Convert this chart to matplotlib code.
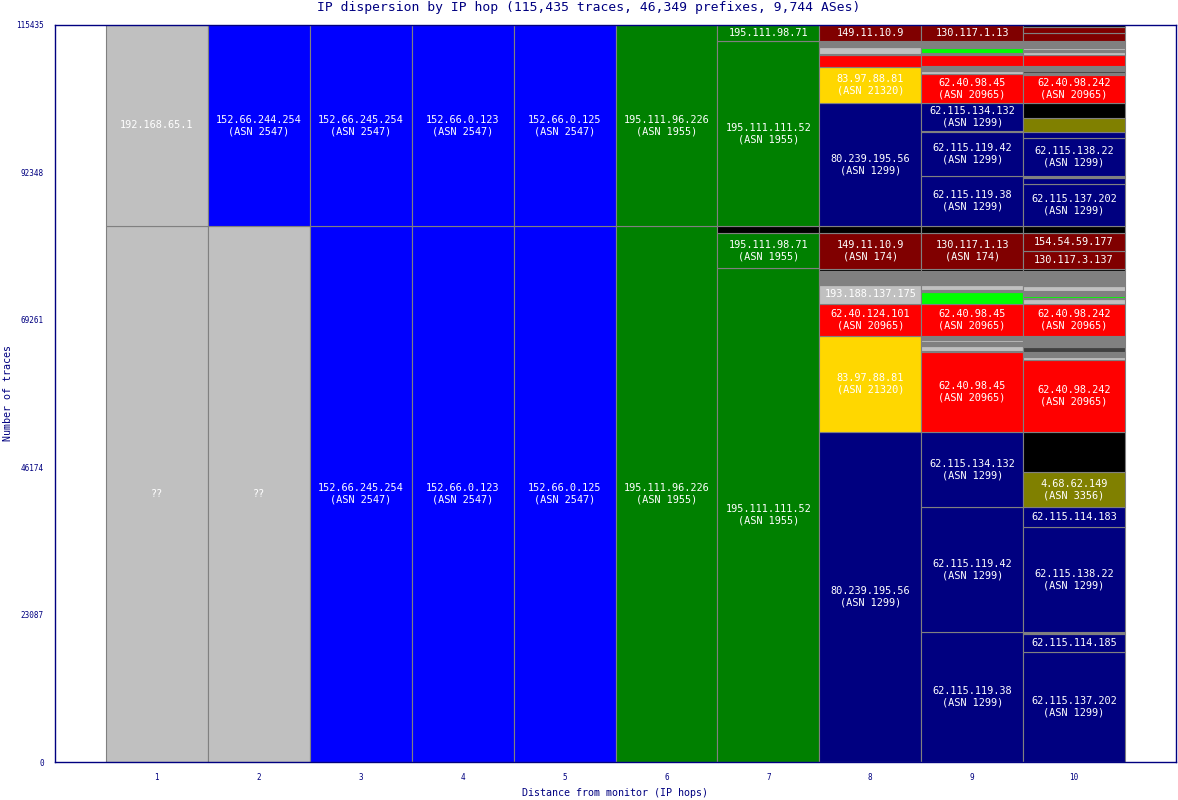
import matplotlib
matplotlib.use("Agg")
import matplotlib.pyplot as plt

# segments per hop, bottom to top: (ip, asn, traces)
hop1 = [("??", "priv", 83954), ("192.168.65.1", "priv", 31481)]
hop2 = [("??", "priv", 83954), ("152.66.244.254", "2547", 31481)]
hop3 = [("152.66.245.254", "2547", 83954), ("152.66.245.254", "2547", 31481)]
hop4 = [("152.66.0.123", "2547", 83954), ("152.66.0.123", "2547", 31481)]
hop5 = [("152.66.0.125", "2547", 83954), ("152.66.0.125", "2547", 31481)]
hop6 = [("195.111.96.226", "1955", 83954), ("195.111.96.226", "1955", 31481)]
hop7 = [("195.111.111.52", "1955", 77375), ("195.111.98.71", "1955", 5482),
        ("", "none", 1097),
        ("195.111.111.52", "1955", 28977), ("195.111.98.71", "1955", 2504)]
hop8 = [("80.239.195.56", "1299", 51688), ("83.97.88.81", "21320", 15036),
        ("62.40.124.101", "20965", 5012), ("193.188.137.175", "priv", 2976),
        ("", "x2", 470), ("", "priv", 157), ("", "x2", 157), ("", "priv", 157),
        ("", "x2", 157), ("", "priv", 157), ("", "x2", 940),
        ("", "none", 313), ("149.11.10.9", "174", 5639), ("", "none", 1096),
        ("80.239.195.56", "1299", 19265), ("83.97.88.81", "21320", 5639),
        ("", "20965", 1880), ("", "x2", 157), ("", "priv", 1096), ("", "x2", 940),
        ("149.11.10.9", "174", 2506)]
hop9 = [("62.115.119.38", "1299", 20362), ("62.115.119.42", "1299", 19579),
        ("62.115.134.132", "1299", 11747), ("62.40.98.45", "20965", 12530),
        ("", "x2", 157), ("", "priv", 783), ("", "x2", 157), ("", "priv", 157),
        ("", "x2", 313), ("", "priv", 313), ("", "x2", 626),
        ("62.40.98.45", "20965", 5012), ("", "x1", 1880), ("", "x2", 313),
        ("", "priv", 783), ("", "x2", 1410), ("", "x3", 157), ("", "x2", 626),
        ("", "none", 313), ("130.117.1.13", "174", 5639), ("", "none", 1096),
        ("62.115.119.38", "1299", 7832), ("62.115.119.42", "1299", 6892),
        ("", "1299", 157), ("62.115.134.132", "1299", 4386),
        ("62.40.98.45", "20965", 4542), ("", "priv", 470), ("", "x2", 313),
        ("", "priv", 157), ("", "x2", 313), ("", "20965", 1723), ("", "x2", 313),
        ("", "x1", 783), ("", "x2", 1096), ("130.117.1.13", "174", 2506)]
hop10 = [("62.115.137.202", "1299", 17229), ("62.115.114.185", "1299", 2819),
         ("", "x2", 313), ("62.115.138.22", "1299", 16446),
         ("62.115.114.183", "1299", 3133), ("4.68.62.149", "3356", 5482),
         ("", "none", 6265), ("62.40.98.242", "20965", 11277),
         ("", "priv", 470), ("", "x2", 783), ("", "x3", 783), ("", "x2", 1723),
         ("62.40.98.242", "20965", 5012), ("", "priv", 783), ("", "x2", 157),
         ("", "x1", 313), ("", "x2", 783), ("", "priv", 783), ("", "x2", 2349),
         ("", "none", 313), ("130.117.3.137", "174", 2819),
         ("154.54.59.177", "174", 2819), ("", "none", 1096),
         ("62.115.137.202", "1299", 6578), ("", "1299", 940), ("", "x2", 313),
         ("62.115.138.22", "1299", 5952), ("", "1299", 940), ("", "3356", 2193),
         ("", "none", 2349), ("62.40.98.242", "20965", 4386), ("", "x2", 313),
         ("", "x3", 313), ("", "x2", 783), ("", "20965", 1723), ("", "priv", 470),
         ("", "x2", 157), ("", "x1", 157), ("", "priv", 313), ("", "x2", 1096),
         ("", "174", 1253), ("", "174", 940), ("", "none", 313)]

hops = [hop1, hop2, hop3, hop4, hop5, hop6, hop7, hop8, hop9, hop10]
total_traces = 115435
yticks = [0, 23087, 46174, 69261, 92348, 115435]

as_colors = {
    "priv": "#c0c0c0", "none": "#000000", "2547": "#0000ff", "1955": "#008000",
    "174": "#800000", "21320": "#ffd700", "1299": "#000080", "20965": "#ff0000",
    "3356": "#808000", "x1": "#00ff00", "x2": "#808080", "x3": "#404040",
}

navy = "#000080"
mono = "DejaVu Sans Mono"

fig = plt.figure(figsize=(11.78, 8), dpi=100)
ax = fig.add_axes([55 / 1178, 38 / 800, 1121 / 1178, 737 / 800])

for h, segs in enumerate(hops, start=1):
    bottom = 0
    for ip, asn, n in segs:
        ax.bar(h, n, width=1, bottom=bottom, color=as_colors[asn],
               edgecolor="#808080", linewidth=0.8)
        if ip:
            if n >= 4000 and asn.isdigit():
                txt = f"{ip}\n(ASN {asn})"
            elif n >= 2300:
                txt = ip
            else:
                txt = ""
            if txt:
                ax.text(h, bottom + n / 2, txt, ha="center", va="center",
                        color="white", fontsize=7.4, family=mono,
                        linespacing=1.15)
        bottom += n

ax.set_xlim(0, 11)
ax.set_ylim(0, total_traces)
ax.set_xticks(range(1, 11))
ax.set_yticks(yticks)
ax.set_yticklabels([str(v) for v in yticks])
ax.tick_params(length=0, labelsize=5.5, labelcolor=navy, pad=8)
for lab in ax.get_xticklabels() + ax.get_yticklabels():
    lab.set_family(mono)
for s in ax.spines.values():
    s.set_color(navy)
    s.set_linewidth(1)

fig.text(0.5, 1 - 8 / 800,
         "IP dispersion by IP hop (115,435 traces, 46,349 prefixes, 9,744 ASes)",
         ha="center", va="center", color=navy, fontsize=9.4, family=mono)
fig.text(615 / 1178, 1 - 793 / 800, "Distance from monitor (IP hops)",
         ha="center", va="center", color=navy, fontsize=7.2, family=mono)
fig.text(8 / 1178, 1 - 393 / 800, "Number of traces", rotation=90,
         ha="center", va="center", color=navy, fontsize=7.2, family=mono)

fig.savefig("out.png", dpi=100)
